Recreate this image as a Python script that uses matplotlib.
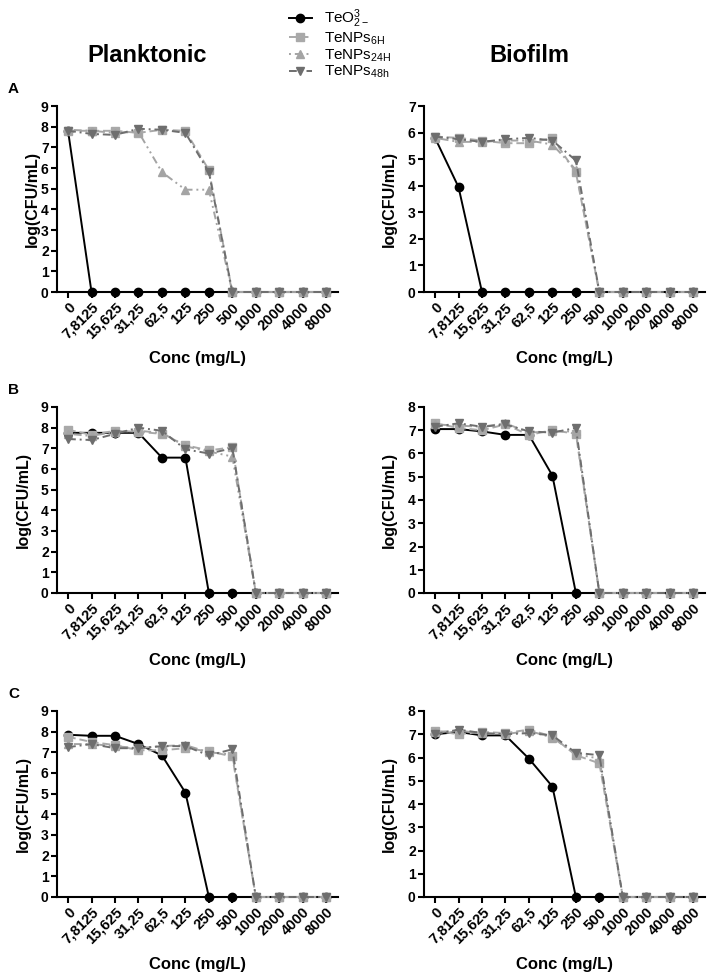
import numpy as np
import matplotlib
matplotlib.use("Agg")
import matplotlib.pyplot as plt

plt.rcParams['font.family'] = ['Liberation Sans', 'DejaVu Sans']
plt.rcParams['mathtext.default'] = 'regular'

# concentrations (categorical x axis)
conc_labels = ['0', '7,8125', '15,625', '31,25', '62,5', '125', '250', '500',
               '1000', '2000', '4000', '8000']
series_names = ['TeO$^{3}_{2-}$', 'TeNPs$_{6H}$', 'TeNPs$_{24H}$', 'TeNPs$_{48h}$']

# A - planktonic
a_plank_teo = [7.8, 0, 0, 0, 0, 0, 0, 0, 0, 0, 0, 0]
a_plank_6h = [7.8, 7.8, 7.8, 7.7, 7.85, 7.8, 5.9, 0, 0, 0, 0, 0]
a_plank_24h = [7.85, 7.8, 7.7, 7.75, 5.8, 4.95, 4.95, 0, 0, 0, 0, 0]
a_plank_48h = [7.8, 7.65, 7.6, 7.9, 7.85, 7.7, 5.8, 0, 0, 0, 0, 0]
# A - biofilm
a_bio_teo = [5.8, 3.95, 0, 0, 0, 0, 0, 0, 0, 0, 0, 0]
a_bio_6h = [5.85, 5.8, 5.7, 5.6, 5.6, 5.8, 4.5, 0, 0, 0, 0, 0]
a_bio_24h = [5.8, 5.65, 5.65, 5.7, 5.7, 5.55, 4.6, 0, 0, 0, 0, 0]
a_bio_48h = [5.85, 5.75, 5.65, 5.75, 5.8, 5.7, 4.95, 0, 0, 0, 0, 0]
# B - planktonic
b_plank_teo = [7.75, 7.75, 7.75, 7.75, 6.55, 6.55, 0, 0, 0, 0, 0, 0]
b_plank_6h = [7.9, 7.65, 7.85, 7.8, 7.7, 7.15, 6.9, 7.05, 0, 0, 0, 0]
b_plank_24h = [7.7, 7.6, 7.8, 7.85, 7.75, 7.1, 6.85, 6.6, 0, 0, 0, 0]
b_plank_48h = [7.45, 7.4, 7.7, 8.0, 7.85, 6.95, 6.75, 7.0, 0, 0, 0, 0]
# B - biofilm
b_bio_teo = [7.05, 7.05, 6.95, 6.8, 6.8, 5.05, 0, 0, 0, 0, 0, 0]
b_bio_6h = [7.3, 7.1, 7.0, 7.25, 6.8, 7.0, 6.85, 0, 0, 0, 0, 0]
b_bio_24h = [7.25, 7.2, 7.15, 7.3, 6.9, 6.95, 6.95, 0, 0, 0, 0, 0]
b_bio_48h = [7.15, 7.3, 7.15, 7.25, 6.95, 6.9, 7.1, 0, 0, 0, 0, 0]
# C - planktonic
c_plank_teo = [7.85, 7.8, 7.8, 7.4, 6.85, 5.05, 0, 0, 0, 0, 0, 0]
c_plank_6h = [7.75, 7.5, 7.35, 7.1, 7.1, 7.2, 7.05, 6.8, 0, 0, 0, 0]
c_plank_24h = [7.4, 7.4, 7.3, 7.2, 7.3, 7.35, 7.0, 6.9, 0, 0, 0, 0]
c_plank_48h = [7.25, 7.4, 7.2, 7.2, 7.3, 7.3, 6.85, 7.15, 0, 0, 0, 0]
# C - biofilm
c_bio_teo = [7.0, 7.1, 6.95, 6.95, 5.95, 4.75, 0, 0, 0, 0, 0, 0]
c_bio_6h = [7.15, 7.0, 7.1, 7.05, 7.2, 6.9, 6.1, 5.75, 0, 0, 0, 0]
c_bio_24h = [7.1, 7.15, 7.05, 7.0, 7.15, 6.85, 6.15, 5.95, 0, 0, 0, 0]
c_bio_48h = [7.0, 7.2, 7.05, 7.0, 7.05, 6.95, 6.2, 6.1, 0, 0, 0, 0]

panels = [
    ('A', 9, [a_plank_teo, a_plank_6h, a_plank_24h, a_plank_48h],
     7, [a_bio_teo, a_bio_6h, a_bio_24h, a_bio_48h]),
    ('B', 9, [b_plank_teo, b_plank_6h, b_plank_24h, b_plank_48h],
     8, [b_bio_teo, b_bio_6h, b_bio_24h, b_bio_48h]),
    ('C', 9, [c_plank_teo, c_plank_6h, c_plank_24h, c_plank_48h],
     8, [c_bio_teo, c_bio_6h, c_bio_24h, c_bio_48h]),
]

styles = [
    dict(color='black', marker='o', linestyle='-', ms=6, lw=1.4),
    dict(color='#a9a9a9', marker='s', linestyle=(0, (4, 2)), ms=6, lw=1.4),
    dict(color='#a4a4a4', marker='^', linestyle=(0, (1, 2, 4, 2, 1, 2)), ms=6, lw=1.4),
    dict(color='#6e6e6e', marker='v', linestyle=(0, (4, 2, 1, 2)), ms=6, lw=1.4),
]

W, H = 708, 973
fig = plt.figure(figsize=(W / 100, H / 100), dpi=100)
x = np.arange(len(conc_labels))

row_bottoms = [292, 593, 897]
col_lefts = [57, 424]
ax_w = 281
ax_h = 186
# y label centre (px) per panel
ylab_x = [[32, 389], [23, 389], [23, 389]]

handles = []
for r, (letter, ymax_p, data_p, ymax_b, data_b) in enumerate(panels):
    for c, (ymax, data) in enumerate([(ymax_p, data_p), (ymax_b, data_b)]):
        ax = fig.add_axes([col_lefts[c] / W, 1 - row_bottoms[r] / H,
                           ax_w / W, ax_h / H])
        for i, ys in enumerate(data):
            st = styles[i]
            ln, = ax.plot(x, ys, color=st['color'], marker=st['marker'],
                          linestyle=st['linestyle'], markersize=st['ms'],
                          linewidth=st['lw'], clip_on=False, zorder=3 + i)
            if r == 0 and c == 0:
                handles.append(ln)
        ax.set_xlim(-0.47, 11.5)
        ax.set_ylim(0, ymax)
        ax.set_yticks(range(0, ymax + 1))
        ax.set_xticks(x)
        ax.set_xticklabels(conc_labels, rotation=45, ha='right',
                           rotation_mode='anchor')
        for lab in ax.get_xticklabels():
            lab.set_fontweight('bold')
            lab.set_fontsize(10.5)
        for lab in ax.get_yticklabels():
            lab.set_fontweight('bold')
            lab.set_fontsize(10)
        ax.tick_params(axis='both', width=1.5, length=4, pad=2)
        ax.spines['top'].set_visible(False)
        ax.spines['right'].set_visible(False)
        ax.spines['left'].set_linewidth(1.5)
        ax.spines['bottom'].set_linewidth(1.5)
        ax.set_ylabel('log(CFU/mL)', fontsize=11.5, fontweight='bold', va='center')
        ax.yaxis.set_label_coords((ylab_x[r][c] - col_lefts[c]) / ax_w, 0.5)
        ax.set_xlabel('Conc (mg/L)', fontsize=12, fontweight='bold', va='center')
        ax.xaxis.set_label_coords(0.5, -67 / ax_h)
    fig.text(8 / W, 1 - (row_bottoms[r] - 203) / H, letter, fontsize=11,
             fontweight='bold', ha='left', va='center')

fig.text(147 / W, 1 - 56 / H, 'Planktonic', fontsize=17, fontweight='bold',
         ha='center', va='center')
fig.text(529 / W, 1 - 56 / H, 'Biofilm', fontsize=17, fontweight='bold',
         ha='center', va='center')

fig.legend(handles, series_names, loc='upper left',
           bbox_to_anchor=(281 / W, 1.0), frameon=False, fontsize=11,
           handlelength=1.5, handletextpad=0.8, labelspacing=0.02,
           borderaxespad=0.1)

fig.savefig('out.png', dpi=100)
